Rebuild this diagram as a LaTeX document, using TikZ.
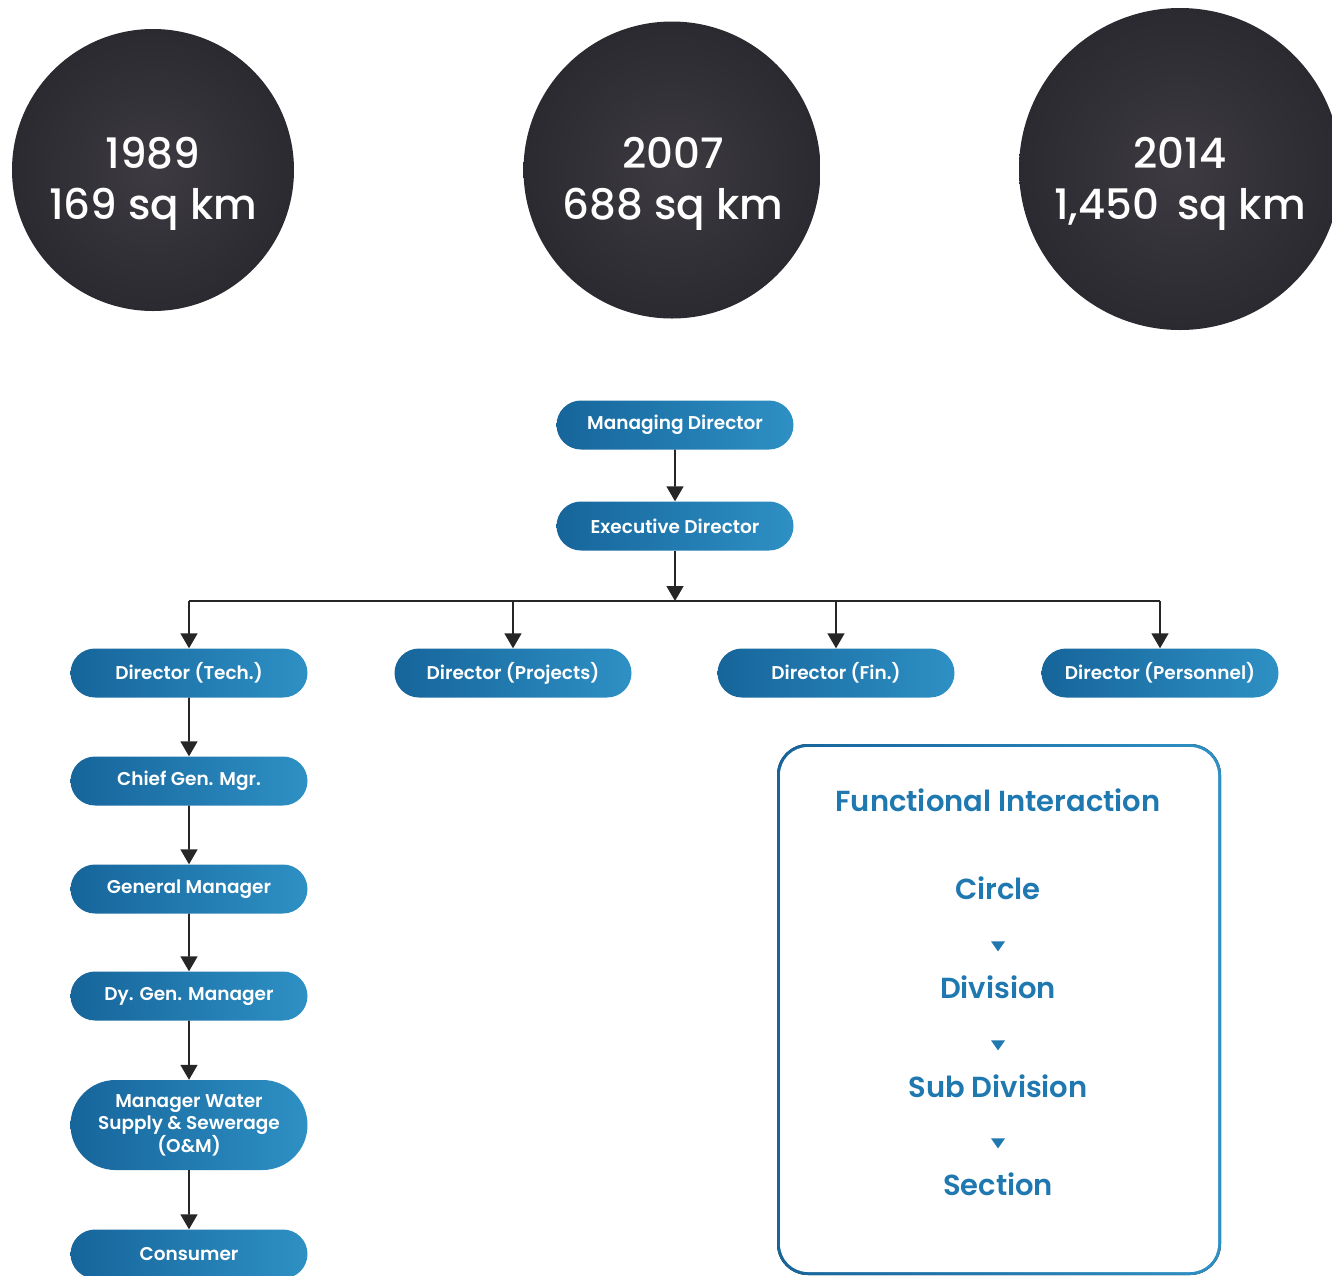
\documentclass[tikz,border=0pt]{standalone}
\usepackage{fontspec}
\setmainfont{Poppins}[BoldFont={Poppins SemiBold}]
\newfontfamily\popmed{Poppins Medium}
\usetikzlibrary{arrows.meta,shapes.misc,shapes.geometric}
\definecolor{bdark}{HTML}{16659B}
\definecolor{blight}{HTML}{2E90C4}
\definecolor{bmid}{HTML}{1F78B0}
\definecolor{charcoal}{HTML}{2A2A30}
\definecolor{glow}{HTML}{3E3A42}
\begin{document}
\begin{tikzpicture}[x=1pt,y=-1pt,
  pill/.style={rounded rectangle, minimum width=237pt, minimum height=49pt, inner sep=0pt,
    left color=bdark, right color=blight, text=white, font=\bfseries\fontsize{18.5}{22}\selectfont, align=center},
  disk/.style={circle, inner color=glow, outer color=charcoal, inner sep=0pt},
  disktext/.style={text=white, align=center, font=\popmed\fontsize{42}{51}\selectfont},
  conn/.style={line width=1.6pt, draw=black!85, -{Triangle[width=17pt,length=15pt]}},
  fitem/.style={text=bmid, font=\bfseries\fontsize{29}{34}\selectfont},
  ftri/.style={fill=bmid, isosceles triangle, shape border rotate=-90, isosceles triangle apex angle=70, minimum width=13pt, minimum height=10pt, inner sep=0pt}
]
\useasboundingbox (0,0) rectangle (1332,1275);
\begin{scope}
\clip (0,0) rectangle (1332,1275);
% circles
\node[disk, minimum size=282pt] (c1) at (153,170) {};
\node[disk, minimum size=297pt] (c2) at (672,170) {};
\node[disk, minimum size=322pt] (c3) at (1180,169) {};
\node[disktext] (t1989) at (153,184) {1989\\169 sq km};
\node[disktext] (t2007) at (673,184) {2007\\688 sq km};
\node[disktext] (t2014) at (1180,184) {2014\\1,450\, sq km};

% org chart
\node[pill] (md) at (675,425) {Managing Director};
\node[pill] (ed) at (675,526) {Executive Director};
\coordinate (bus) at (675,601);
\node[pill] (dt) at (189,673) {Director (Tech.)};
\node[pill] (dp) at (513,673) {Director (Projects)};
\node[pill] (df) at (836,673) {Director (Fin.)};
\node[pill] (dpe) at (1160,673) {Director (Personnel)};
\node[pill] (cgm) at (189,781) {Chief Gen. Mgr.};
\node[pill] (gm) at (189,889) {General Manager};
\node[pill] (dgm) at (189,996) {Dy. Gen. Manager};
\node[pill, minimum height=90pt] (mws) at (189,1125) {Manager Water\\Supply \& Sewerage\\(O\&M)};
\node[pill] (con) at (189,1254) {Consumer};

\draw[conn] (md) -- (ed);
\draw[conn] (ed) -- (bus);
\draw[line width=1.6pt, draw=black!85] (dt.north |- bus) -- (dpe.north |- bus);
\draw[conn] (dt.north |- bus) -- (dt.north);
\draw[conn] (dp.north |- bus) -- (dp.north);
\draw[conn] (df.north |- bus) -- (df.north);
\draw[conn] (dpe.north |- bus) -- (dpe.north);
\draw[conn] (dt) -- (cgm);
\draw[conn] (cgm) -- (gm);
\draw[conn] (gm) -- (dgm);
\draw[conn] (dgm) -- (mws);
\draw[conn] (mws) -- (con);

% functional interaction box
\fill[left color=bdark, right color=blight, rounded corners=31pt] (777,744) rectangle (1221,1275);
\fill[white, rounded corners=28pt] (780,747) rectangle (1218,1272);
\node[fitem] (fi) at (998,800) {Functional Interaction};
\node[fitem] (fc) at (998,888) {Circle};
\node[ftri] (tr1) at (998,945) {};
\node[fitem] (fd) at (998,987) {Division};
\node[ftri] (tr2) at (998,1044) {};
\node[fitem] (fs) at (998,1086) {Sub Division};
\node[ftri] (tr3) at (998,1142) {};
\node[fitem] (fse) at (998,1184) {Section};
\end{scope}
\end{tikzpicture}
\end{document}
